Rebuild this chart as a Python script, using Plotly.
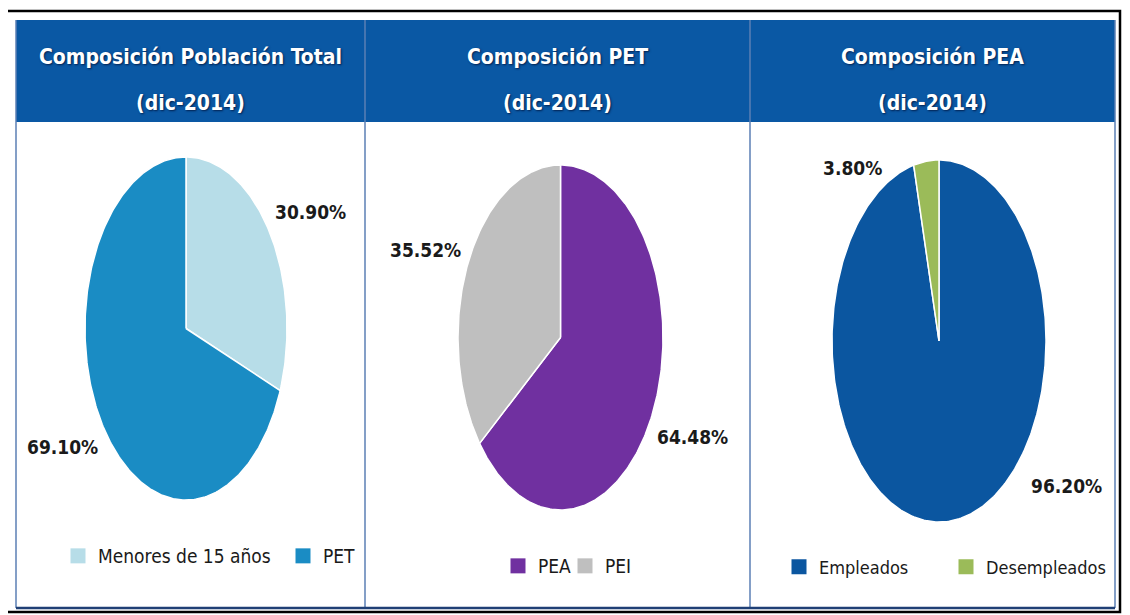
import numpy as np
import plotly.graph_objects as go

# page body has an 8px margin; positions below are in reference pixels
OFF = 8
W, H = 1130 - OFF, 615 - OFF

# ---------------- data ----------------
titles = ["Composición Población Total", "Composición PET", "Composición PEA"]
period = "(dic-2014)"

labels_pob = ["Menores de 15 años", "PET"]
values_pob = [30.90, 69.10]

labels_pet = ["PEA", "PEI"]
values_pet = [64.48, 35.52]

labels_pea = ["Empleados", "Desempleados"]
values_pea = [96.20, 3.80]

# ---------------- styles / layout ----------------
colors = [["#B7DDE8", "#1A8CC4"], ["#7030A0", "#BFBFBF"], ["#0B56A0", "#9BBB59"]]
header_blue = "#0A58A4"
FONT = "DejaVu Sans Condensed, Liberation Sans Narrow, Roboto, sans-serif"

pie_boxes = [(85, 157, 287, 500), (458, 165, 663, 510), (832, 160, 1046, 522)]
label_pos = [[(310, 212), (62, 447)], [(692, 437), (425, 250)], [(1066, 486), (852, 168)]]
panel_x = [(16, 365), (365, 750), (750, 1115)]
legend_left = [58, 498, 779]
legend_y = [556, 566, 567]
legend_entrywidth = [180, 22, 122]
legend_fontsize = [19, 19, 18]


def px(x):
    return (x - OFF) / W


def py(y):
    return 1 - (y - OFF) / H


datasets = [(labels_pob, values_pob), (labels_pet, values_pet), (labels_pea, values_pea)]

fig = go.Figure()
layout_axes = {}
annotations = []
shapes = []

for i, (labs, vals) in enumerate(datasets):
    k = i + 1
    xa = "x" if k == 1 else f"x{k}"
    ya = "y" if k == 1 else f"y{k}"
    legend_name = "legend" if k == 1 else f"legend{k}"
    total = sum(vals)
    start = 0.0
    for j, (lab, v) in enumerate(zip(labs, vals)):
        frac = v / total
        t = np.linspace(start, start + frac, max(int(frac * 400), 4)) * 2 * np.pi
        xs = np.concatenate([[0], np.sin(t), [0]])
        ys = np.concatenate([[0], np.cos(t), [0]])
        fig.add_trace(go.Scatter(
            x=xs, y=ys, xaxis=xa, yaxis=ya, mode="lines", fill="toself",
            fillcolor=colors[i][j], line=dict(color="white", width=1.5),
            name=lab, showlegend=False, hoverinfo="name",
        ))
        fig.add_trace(go.Scatter(
            x=[None], y=[None], xaxis=xa, yaxis=ya, mode="markers",
            marker=dict(symbol="square", size=15, color=colors[i][j]),
            name=lab, legend=legend_name, showlegend=True,
        ))
        lx, ly = label_pos[i][j]
        annotations.append(dict(
            x=px(lx), y=py(ly), xref="paper", yref="paper", text=f"<b>{v:.2f}%</b>",
            showarrow=False, font=dict(family=FONT, size=19, color="#1a1a1a"),
            xanchor="center", yanchor="middle",
        ))
        start += frac

    x0, y0, x1, y1 = pie_boxes[i]
    layout_axes[f"xaxis{'' if k == 1 else k}"] = dict(
        domain=[px(x0), px(x1)], range=[-1, 1], visible=False, fixedrange=True)
    layout_axes[f"yaxis{'' if k == 1 else k}"] = dict(
        domain=[py(y1), py(y0)], range=[-1, 1], visible=False, fixedrange=True)

    pxl, pxr = panel_x[i]
    cx = (pxl + pxr) / 2
    for txt, yy in [(titles[i], 57), (period, 103)]:
        annotations.append(dict(
            x=px(cx), y=py(yy), xref="paper", yref="paper", text=f"<b>{txt}</b>",
            showarrow=False,
            font=dict(family=FONT, size=21, color="white",
                      shadow="1px 1px 2px rgba(0,20,60,0.8)"),
            xanchor="center", yanchor="middle"))

    layout_axes[legend_name] = dict(
        x=px(legend_left[i]), y=py(legend_y[i]), xanchor="left", yanchor="middle",
        orientation="h", font=dict(family=FONT, size=legend_fontsize[i], color="#1a1a1a"),
        bgcolor="rgba(0,0,0,0)", itemclick=False, itemdoubleclick=False,
        itemwidth=30, entrywidth=legend_entrywidth[i],
    )

shapes.append(dict(type="rect", xref="paper", yref="paper", x0=px(16), x1=px(1115),
                   y0=py(122), y1=py(20), fillcolor=header_blue, line=dict(width=0), layer="below"))
for xv in [16, 365, 750, 1115]:
    shapes.append(dict(type="line", xref="paper", yref="paper", x0=px(xv), x1=px(xv),
                       y0=py(608), y1=py(20), line=dict(color="#5B7FB5", width=1.5)))
shapes.append(dict(type="line", xref="paper", yref="paper", x0=px(16), x1=px(1115),
                   y0=py(608), y1=py(608), line=dict(color="#1F3F75", width=2.5)))
shapes.append(dict(type="rect", xref="paper", yref="paper", x0=px(6), x1=px(1120),
                   y0=py(612), y1=py(11), line=dict(color="black", width=2.5),
                   fillcolor="rgba(0,0,0,0)"))

fig.update_layout(
    width=W, height=H, margin=dict(l=0, r=0, t=0, b=0),
    paper_bgcolor="white", plot_bgcolor="white",
    showlegend=True, annotations=annotations, shapes=shapes,
    **layout_axes,
)

fig.write_html("out.html")
